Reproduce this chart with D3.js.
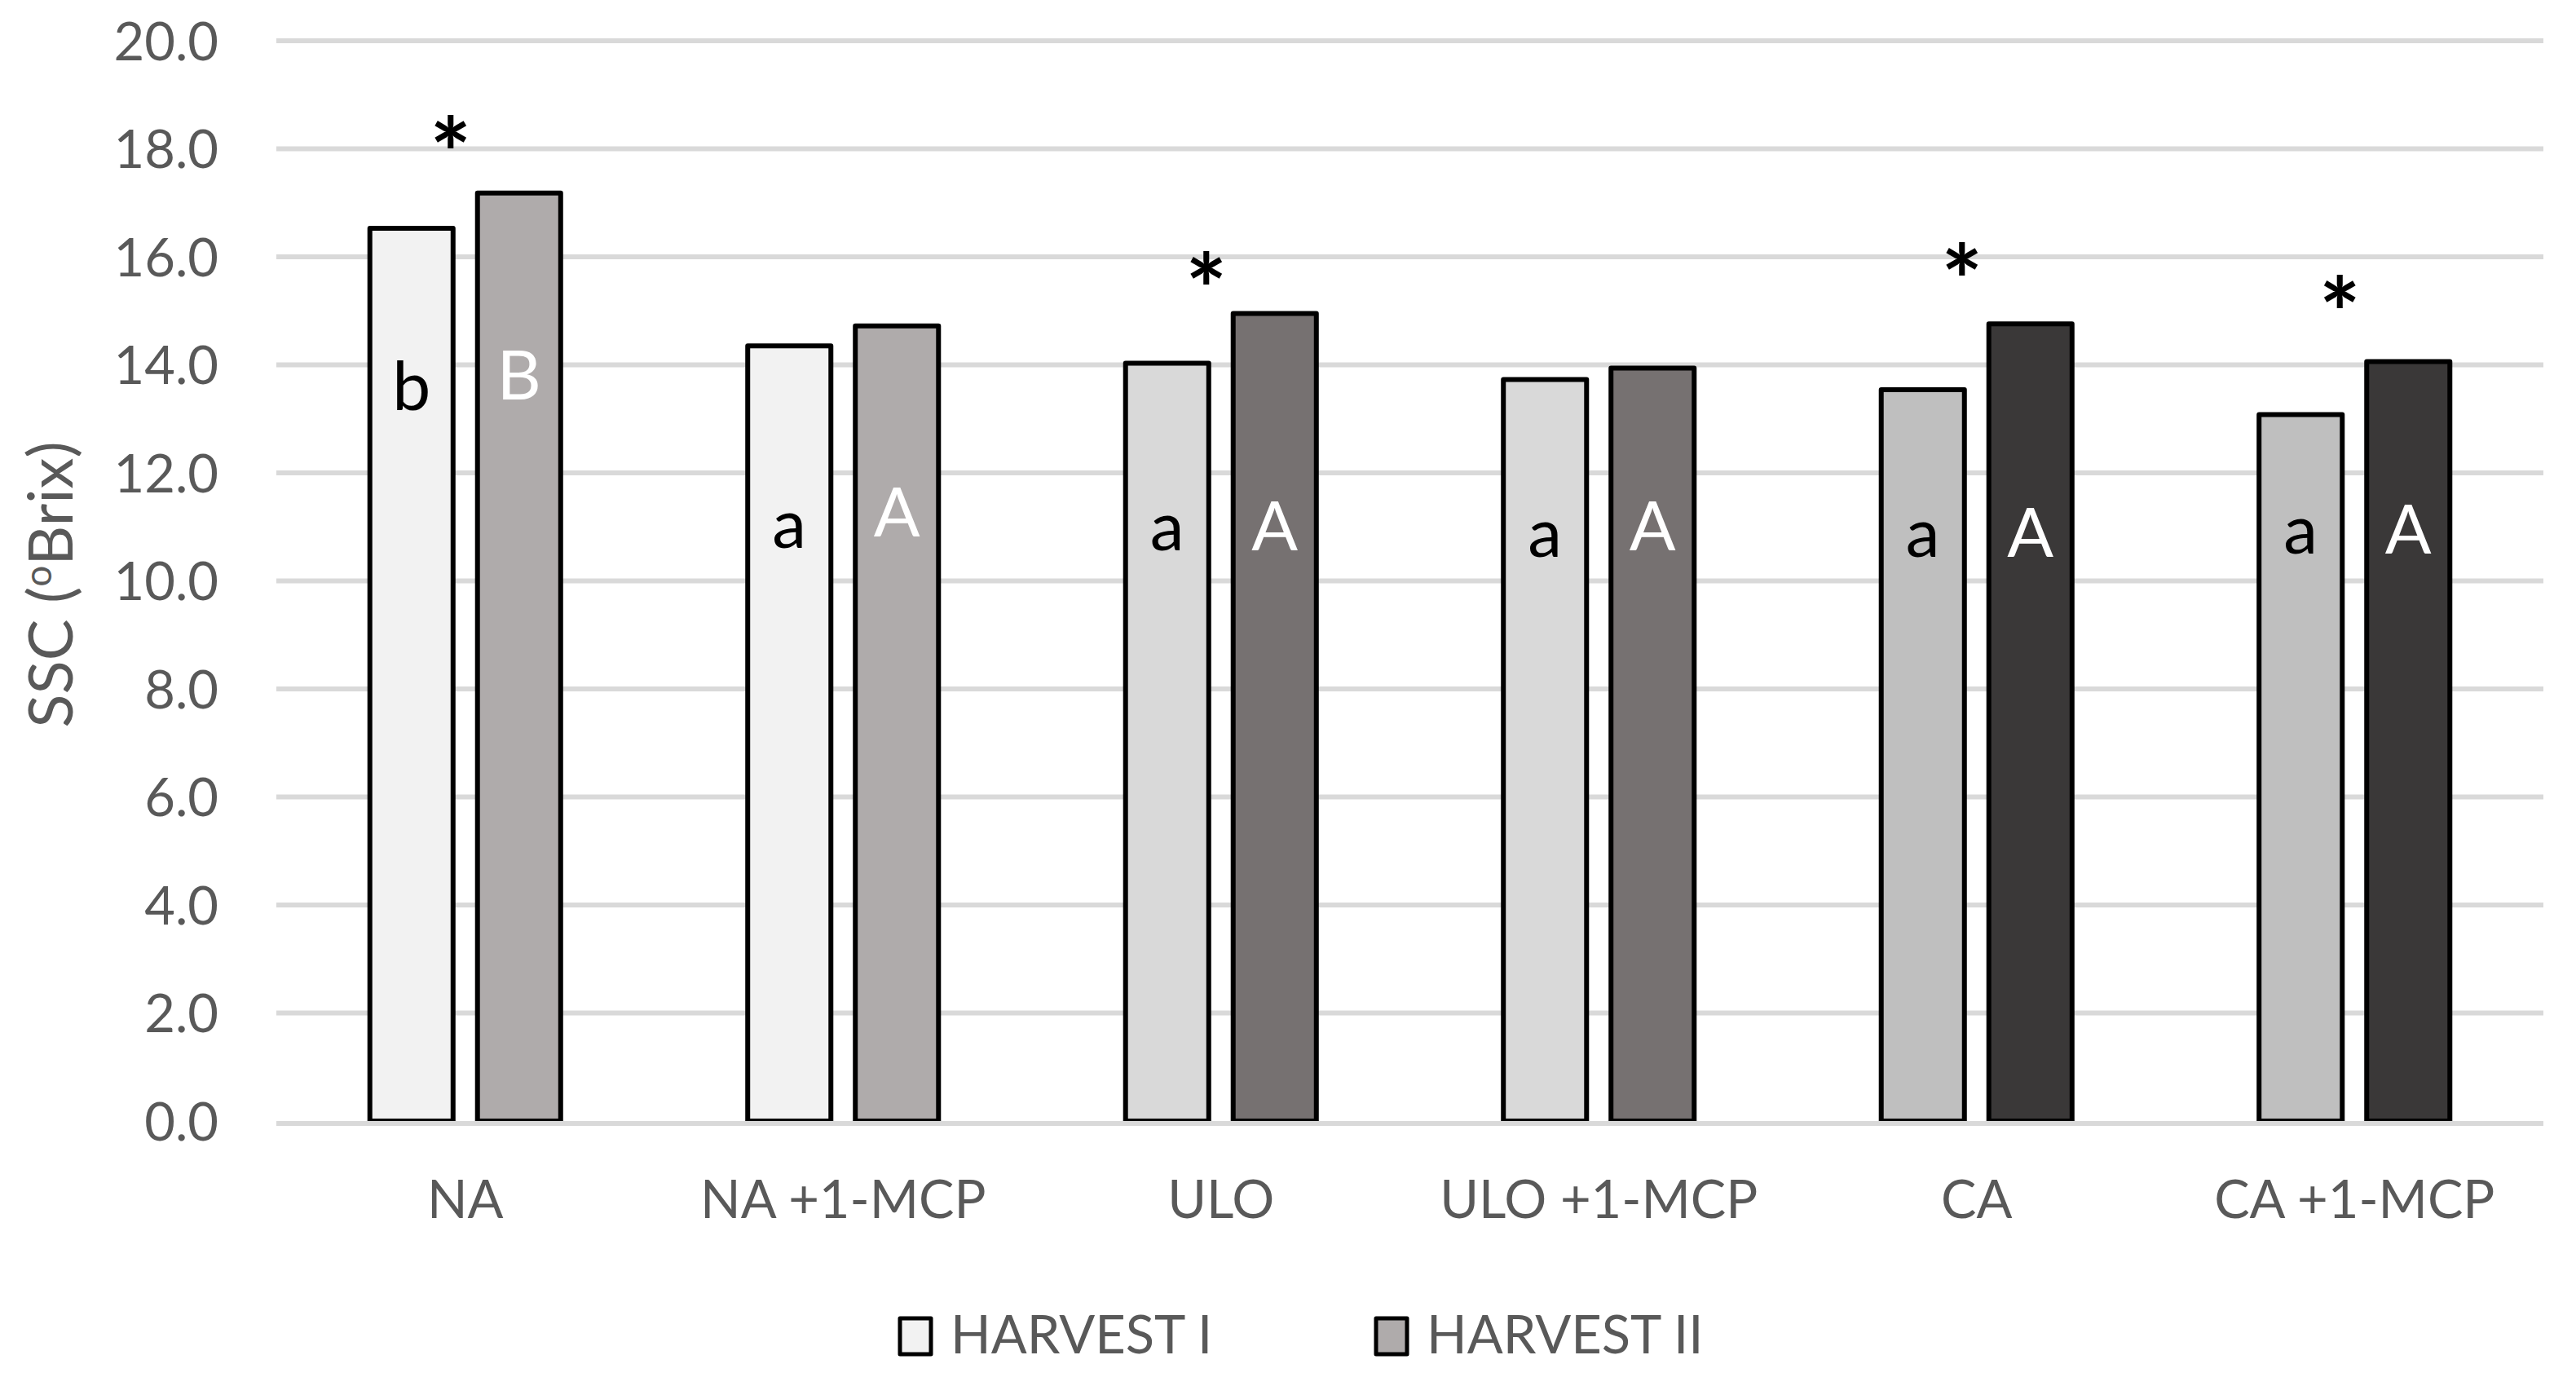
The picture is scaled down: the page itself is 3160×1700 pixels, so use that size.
<!DOCTYPE html>
<html>
<head>
<meta charset="utf-8">
<script src="https://cdn.jsdelivr.net/npm/d3@7"></script>
<style>
  html, body { margin: 0; padding: 0; background: #ffffff; }
  svg { display: block; }
  text { font-family: Lato, "Open Sans", sans-serif; }
</style>
</head>
<body>
<svg id="chart" width="3160" height="1700"></svg>
<script>
// ---- data ----
const categories = ["NA", "NA +1-MCP", "ULO", "ULO +1-MCP", "CA", "CA +1-MCP"];
const seriesNames = ["HARVEST I", "HARVEST II"];
const harvest1 = [16.53, 14.35, 14.03, 13.73, 13.54, 13.08];
const harvest2 = [17.18, 14.72, 14.95, 13.94, 14.76, 14.06];
const yTicks = [0, 2, 4, 6, 8, 10, 12, 14, 16, 18, 20];
const lettersH1 = ["b", "a", "a", "a", "a", "a"];
const lettersH2 = ["B", "A", "A", "A", "A", "A"];
// level (in °Brix units) at which each letter's baseline sits
const letterLevelH1 = [13.16, 10.61, 10.57, 10.45, 10.45, 10.51];
const letterLevelH2 = [13.36, 10.82, 10.57, 10.57, 10.45, 10.51];
// significance asterisks (true/false) and their level (°Brix units)
const starShown = [true, false, true, false, true, true];
const starLevel = [18.24, 0, 15.71, 0, 15.88, 15.28];
// fills per category for each harvest
const fillH1 = ["#f2f2f2", "#f2f2f2", "#d9d9d9", "#d9d9d9", "#bfbfbf", "#bfbfbf"];
const fillH2 = ["#afabab", "#afabab", "#767171", "#767171", "#3a3838", "#3a3838"];
const legendFills = ["#f2f2f2", "#afabab"];

// ---- layout ----
const svg = d3.select("#chart");
const plot = { left: 339, right: 3120, top: 50, bottom: 1375 };
const textGrey = "#595959";

const x = d3.scaleBand().domain(categories).range([plot.left, plot.right]).paddingInner(0).paddingOuter(0);
const xSub = d3.scaleBand().domain([0, 1]).range([0, x.bandwidth()]).paddingInner(0.227).paddingOuter(0.869);
const y = d3.scaleLinear().domain([0, 20]).range([plot.bottom, plot.top]);

// gridlines (except zero, drawn last)
svg.append("g").selectAll("line").data(yTicks.filter(d => d !== 0)).join("line")
  .attr("x1", plot.left).attr("x2", plot.right)
  .attr("y1", d => y(d)).attr("y2", d => y(d))
  .attr("stroke", "#d9d9d9").attr("stroke-width", 6);

// y axis tick labels
const yAxis = d3.axisLeft(y).tickValues(yTicks).tickFormat(d3.format(".1f")).tickSize(0).tickPadding(0);
const yg = svg.append("g").attr("transform", `translate(268,0)`).call(yAxis);
yg.select(".domain").remove();
yg.selectAll("text").attr("font-size", 65).attr("fill", textGrey)
  .attr("font-family", "Lato, sans-serif").attr("dy", "0.36em");

// bars
const rows = categories.map((c, i) => ({ c, i }));
const barData = [];
rows.forEach(r => {
  barData.push({ c: r.c, s: 0, v: harvest1[r.i], fill: fillH1[r.i], letter: lettersH1[r.i], lv: letterLevelH1[r.i] });
  barData.push({ c: r.c, s: 1, v: harvest2[r.i], fill: fillH2[r.i], letter: lettersH2[r.i], lv: letterLevelH2[r.i] });
});

svg.append("g").selectAll("rect").data(barData).join("rect")
  .attr("x", d => x(d.c) + xSub(d.s))
  .attr("width", xSub.bandwidth())
  .attr("y", d => y(d.v))
  .attr("height", d => y(0) - y(d.v))
  .attr("fill", d => d.fill)
  .attr("stroke", "#000").attr("stroke-width", 6).attr("stroke-linejoin", "round");

// zero line over bars
svg.append("line")
  .attr("x1", plot.left).attr("x2", plot.right)
  .attr("y1", y(0) + 3).attr("y2", y(0) + 3)
  .attr("stroke", "#d9d9d9").attr("stroke-width", 6);

// letters inside bars
svg.append("g").selectAll("text").data(barData).join("text")
  .attr("x", d => x(d.c) + xSub(d.s) + xSub.bandwidth() / 2)
  .attr("y", d => y(d.lv))
  .attr("text-anchor", "middle")
  .attr("font-size", 84)
  .attr("fill", d => d.s === 0 ? "#000000" : "#ffffff")
  .text(d => d.letter);

// asterisks
svg.append("g").selectAll("text").data(rows.filter(r => starShown[r.i])).join("text")
  .attr("x", r => x(r.c) + x.bandwidth() / 2 - 18)
  .attr("y", r => y(starLevel[r.i]))
  .attr("dy", "0.55em")
  .attr("text-anchor", "middle")
  .attr("font-size", 120)
  .attr("font-weight", 700)
  .attr("fill", "#000")
  .text("*");

// category labels
const xAxis = d3.axisBottom(x).tickSize(0).tickPadding(0);
const xg = svg.append("g").attr("transform", `translate(0,1494)`).call(xAxis);
xg.select(".domain").remove();
xg.selectAll("text").attr("font-size", 65).attr("fill", textGrey)
  .attr("font-family", "Lato, sans-serif").attr("dy", 0);

// y title
const title = svg.append("text")
  .attr("transform", "translate(89,717) rotate(-90)")
  .attr("text-anchor", "middle")
  .attr("font-size", 76)
  .attr("fill", textGrey);
title.append("tspan").text("SSC (");
title.append("tspan").attr("font-size", 46).attr("dy", -26).text("o");
title.append("tspan").attr("dy", 26).text("Brix)");

// legend
const legendX = [1104, 1688];
const lg = svg.append("g").selectAll("g").data(seriesNames).join("g")
  .attr("transform", (d, i) => `translate(${legendX[i]},1617)`);
lg.append("rect").attr("width", 38).attr("height", 44)
  .attr("fill", (d, i) => legendFills[i])
  .attr("stroke", "#000").attr("stroke-width", 5).attr("stroke-linejoin", "round");
lg.append("text").attr("x", 62).attr("y", 43)
  .attr("font-size", 65).attr("fill", textGrey).text(d => d);
</script>
</body>
</html>
